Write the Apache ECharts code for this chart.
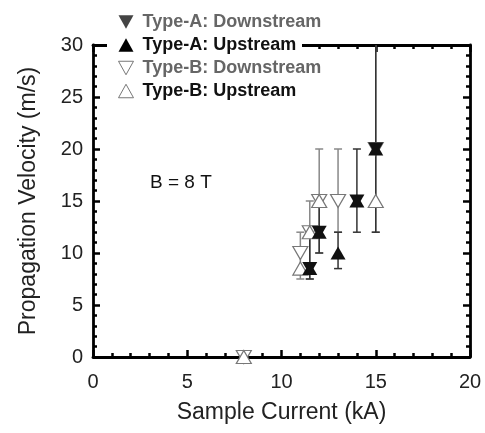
<!DOCTYPE html>
<html>
<head>
<meta charset="utf-8">
<script src="https://cdn.jsdelivr.net/npm/echarts@6/dist/echarts.min.js"></script>
<style>
  html, body { margin: 0; padding: 0; background: #fff; }
  #chart { width: 485px; height: 433px; }
</style>
</head>
<body>
<div id="chart"></div>
<script>
// [current kA, velocity m/s]
var typeADown = [[11.5, 8.5], [12, 12], [14, 15], [15, 20]];
var typeAUp = [[11.5, 8.5], [12, 12], [13, 10], [14, 15], [15, 20]];
var typeBDown = [[8, 0], [11, 10], [11.5, 12], [12, 15], [13, 15], [15, 20]];
var typeBUp = [[8, 0], [11, 8.5], [11.5, 12], [12, 15], [15, 15]];
// [current, low, high]
var errA = [[11.5, 7.5, 12], [12, 10, 15], [13, 8.5, 12], [14, 12, 20], [15, 12, 32]];
var errB = [[11, 7.5, 12], [11.5, 7.5, 15], [12, 10, 20], [13, 12, 20], [15, 12, 32]];
var names = ['Type-A: Downstream', 'Type-A: Upstream', 'Type-B: Downstream', 'Type-B: Upstream'];

var downTri = 'path://M0,0 L10,0 L5,9 Z';
var upTri = 'path://M5,0 L10,9 L0,9 Z';
var font = '"Liberation Sans", Arial, sans-serif';

var chart = echarts.init(document.getElementById('chart'));

function errRender(color) {
  return function (params, api) {
    var x = api.value(0);
    var lo = api.coord([x, api.value(1)]);
    var hi = api.coord([x, api.value(2)]);
    var style = { stroke: color, lineWidth: 1.5 };
    var kids = [
      { type: 'line', shape: { x1: lo[0], y1: lo[1], x2: hi[0], y2: hi[1] }, style: style },
      { type: 'line', shape: { x1: lo[0] - 4, y1: lo[1], x2: lo[0] + 4, y2: lo[1] }, style: style }
    ];
    if (api.value(2) <= 30) {
      kids.push({ type: 'line', shape: { x1: hi[0] - 4, y1: hi[1], x2: hi[0] + 4, y2: hi[1] }, style: style });
    }
    return { type: 'group', children: kids };
  };
}

function axisCommon(show) {
  return {
    axisLine: { show: true, onZero: false, lineStyle: { color: '#000', width: 2.8 } },
    axisTick: { show: true, inside: true, length: 7, lineStyle: { color: '#000', width: 2.5 } },
    minorTick: { show: true, splitNumber: 5, length: 4, lineStyle: { color: '#000', width: 2.5 } },
    splitLine: { show: false },
    axisLabel: { show: show, color: '#222', fontSize: 20, fontFamily: font }
  };
}

var xBottom = Object.assign(axisCommon(true), {
  type: 'value', min: 0, max: 20, interval: 5, position: 'bottom',
  name: 'Sample Current (kA)', nameLocation: 'middle', nameGap: 44,
  nameTextStyle: { color: '#222', fontSize: 23, fontFamily: font }
});
xBottom.axisLabel.margin = 15;
var xTop = Object.assign(axisCommon(false), { type: 'value', min: 0, max: 20, interval: 5, position: 'top' });
var yLeft = Object.assign(axisCommon(true), {
  type: 'value', min: 0, max: 30, interval: 5, position: 'left',
  name: 'Propagation Velocity (m/s)', nameLocation: 'middle', nameGap: 53,
  nameTextStyle: { color: '#222', fontSize: 23, fontFamily: font }
});
yLeft.axisLabel.margin = 10;
var yRight = Object.assign(axisCommon(false), { type: 'value', min: 0, max: 30, interval: 5, position: 'right' });

var gray = '#777';
var option = {
  backgroundColor: '#fff',
  animation: false,
  grid: { left: 93, right: 15, top: 45, bottom: 76 },
  xAxis: [xBottom, xTop],
  yAxis: [yLeft, yRight],
  legend: {
    orient: 'vertical',
    left: 112, top: 9,
    padding: [4, 6, 4, 6],
    itemGap: 5,
    itemWidth: 15, itemHeight: 14,
    textStyle: { fontSize: 18, fontWeight: 'bold', fontFamily: font, padding: [0, 0, 0, 4] },
    data: [
      { name: names[0], icon: downTri, itemStyle: { color: '#444', borderWidth: 0 }, textStyle: { color: '#666' } },
      { name: names[1], icon: upTri, itemStyle: { color: '#000', borderWidth: 0 }, textStyle: { color: '#111' } },
      { name: names[2], icon: downTri, itemStyle: { color: '#fff', borderColor: gray, borderWidth: 1 }, textStyle: { color: '#666' } },
      { name: names[3], icon: upTri, itemStyle: { color: '#fff', borderColor: gray, borderWidth: 1 }, textStyle: { color: '#111' } }
    ]
  },
  graphic: [
    // white gap in the top frame behind the legend
    { type: 'rect', left: 107, top: 38, z: 3, shape: { width: 195, height: 14 }, style: { fill: '#fff' } },
    { type: 'text', left: 150, top: 173, z: 3,
      style: { text: 'B = 8 T', fontSize: 19, fontFamily: font, fill: '#111' } }
  ],
  series: [
    { type: 'custom', name: 'errB', data: errB, renderItem: errRender('#888'), clip: true, z: 1, silent: true },
    { type: 'custom', name: 'errA', data: errA, renderItem: errRender('#333'), clip: true, z: 1, silent: true },
    { name: names[2], type: 'scatter', data: typeBDown, symbol: downTri, symbolSize: [15, 13], z: 2,
      itemStyle: { color: '#fff', borderColor: gray, borderWidth: 1.2, opacity: 1 } },
    { name: names[3], type: 'scatter', data: typeBUp, symbol: upTri, symbolSize: [15, 13], z: 2,
      itemStyle: { color: '#fff', borderColor: gray, borderWidth: 1.2, opacity: 1 } },
    { name: names[0], type: 'scatter', data: typeADown, symbol: downTri, symbolSize: [15, 13], z: 3,
      itemStyle: { color: '#111', opacity: 1 } },
    { name: names[1], type: 'scatter', data: typeAUp, symbol: upTri, symbolSize: [15, 13], z: 3,
      itemStyle: { color: '#111', opacity: 1 } }
  ]
};

chart.setOption(option);
</script>
</body>
</html>
